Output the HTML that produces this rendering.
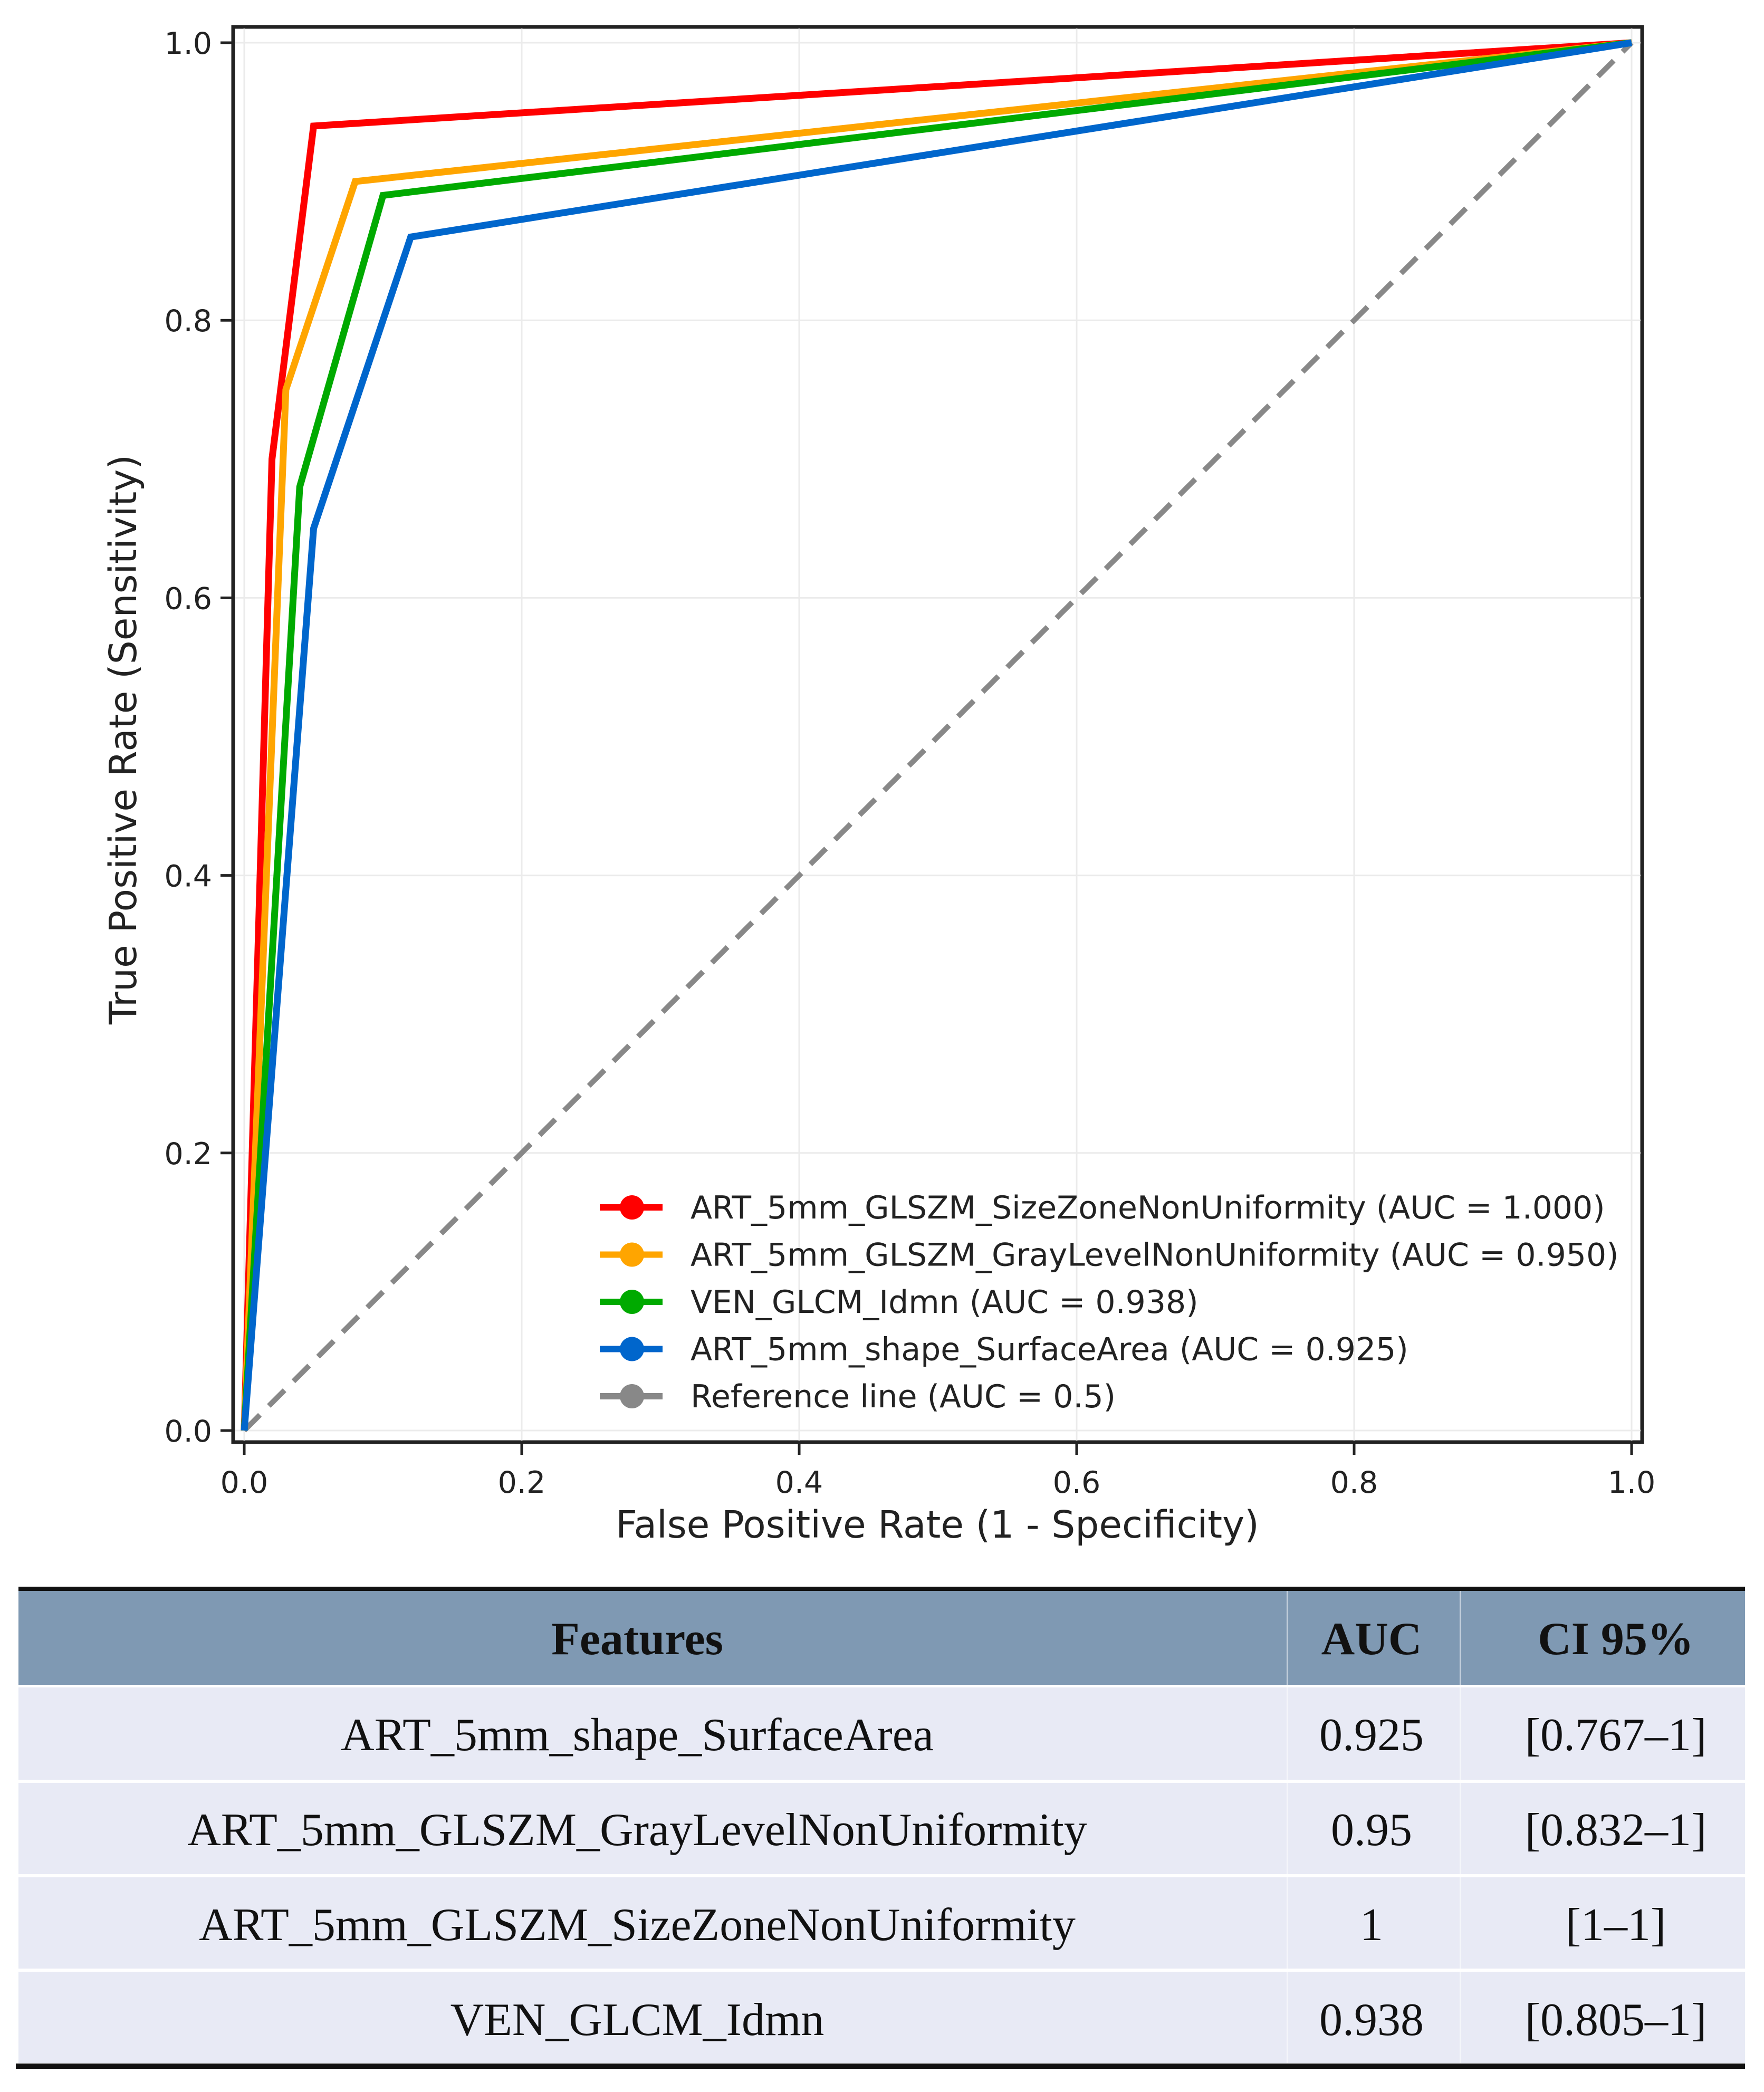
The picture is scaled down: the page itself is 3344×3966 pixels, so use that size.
<!DOCTYPE html>
<html><head><meta charset="utf-8"><style>
html,body{margin:0;padding:0;background:#fff;width:3344px;height:3966px;overflow:hidden}
svg{display:block}
</style></head><body>
<svg id="c" width="3344" height="3966" xmlns="http://www.w3.org/2000/svg">
<rect x="442" y="51" width="2671" height="2683" fill="#fff" stroke="#222" stroke-width="7"/>
<g id="grid"></g><g id="ticks"></g><g id="series"></g><g id="legend"></g>
<text x="1777" y="2915" font-family="DejaVu Sans, sans-serif" font-size="71" text-anchor="middle" fill="#222">False Positive Rate (1 - Specificity)</text>
<text transform="translate(258,1402) rotate(-90)" font-family="DejaVu Sans, sans-serif" font-size="71" text-anchor="middle" fill="#222">True Positive Rate (Sensitivity)</text>
<g font-family="Liberation Serif, serif" font-size="88" fill="#111">
<rect x="35" y="3016" width="3273" height="178" fill="#7f99b3"/>
<rect x="35" y="3008" width="3273" height="8" fill="#111"/>
<rect x="35" y="3199" width="3273" height="175" fill="#e8eaf5"/>
<rect x="35" y="3380" width="3273" height="173" fill="#e8eaf5"/>
<rect x="35" y="3559" width="3273" height="173" fill="#e8eaf5"/>
<rect x="35" y="3738" width="3273" height="173" fill="#e8eaf5"/>
<rect x="30" y="3912" width="3278" height="10" fill="#111"/>
<rect x="2439" y="3016" width="2" height="895" fill="#fff" opacity="0.6"/>
<rect x="2767" y="3016" width="2" height="895" fill="#fff" opacity="0.6"/>
<g font-weight="bold" text-anchor="middle">
<text x="1208" y="3136">Features</text>
<text x="2600" y="3136">AUC</text>
<text x="3063" y="3136">CI 95%</text>
</g>
<g text-anchor="middle">
<text x="1208" y="3318">ART_5mm_shape_SurfaceArea</text>
<text x="2600" y="3318">0.925</text>
<text x="3063" y="3318">[0.767–1]</text>
<text x="1208" y="3498">ART_5mm_GLSZM_GrayLevelNonUniformity</text>
<text x="2600" y="3498">0.95</text>
<text x="3063" y="3498">[0.832–1]</text>
<text x="1208" y="3678">ART_5mm_GLSZM_SizeZoneNonUniformity</text>
<text x="2600" y="3678">1</text>
<text x="3063" y="3678">[1–1]</text>
<text x="1208" y="3858">VEN_GLCM_Idmn</text>
<text x="2600" y="3858">0.938</text>
<text x="3063" y="3858">[0.805–1]</text>
</g></g>
</svg>
<script>
const tickValues=[0,0.2,0.4,0.6,0.8,1.0];
const tickLabels=["0.0","0.2","0.4","0.6","0.8","1.0"];
const seriesNames=["ART_5mm_GLSZM_SizeZoneNonUniformity (AUC = 1.000)","ART_5mm_GLSZM_GrayLevelNonUniformity (AUC = 0.950)","VEN_GLCM_Idmn (AUC = 0.938)","ART_5mm_shape_SurfaceArea (AUC = 0.925)","Reference line (AUC = 0.5)"];
const seriesColors=["#ff0000","#ffa500","#00aa00","#0066cc","#888888"];
const redFpr=[0,0.02,0.05,1];const redTpr=[0,0.70,0.94,1];
const orangeFpr=[0,0.03,0.08,1];const orangeTpr=[0,0.75,0.90,1];
const greenFpr=[0,0.04,0.10,1];const greenTpr=[0,0.68,0.89,1];
const blueFpr=[0,0.05,0.12,1];const blueTpr=[0,0.65,0.86,1];
const refFpr=[0,1];const refTpr=[0,1];
const NS="http://www.w3.org/2000/svg";
const X=v=>463+v*2630, Y=v=>2712-v*2631;
function mk(t,a,p){const e=document.createElementNS(NS,t);for(const k in a)e.setAttribute(k,a[k]);p.appendChild(e);return e;}
const grid=document.getElementById('grid'),ticks=document.getElementById('ticks');
tickValues.forEach((v,i)=>{
 let g1=mk('line',{x1:X(v),x2:X(v),y1:54,y2:2731,stroke:'#ebebeb','stroke-width':3},grid);
 
 
 let g2=mk('line',{x1:445,x2:3110,y1:Y(v),y2:Y(v),stroke:'#ebebeb','stroke-width':3},grid);
 
 
 mk('line',{x1:X(v),x2:X(v),y1:2734,y2:2758,stroke:'#222','stroke-width':5},ticks);
 mk('line',{x1:418,x2:442,y1:Y(v),y2:Y(v),stroke:'#222','stroke-width':5},ticks);
 let tx=mk('text',{x:X(v),y:2830,'font-family':'DejaVu Sans, sans-serif','font-size':57,'text-anchor':'middle',fill:'#222'},ticks);
 tx.textContent=tickLabels[i];
 
 
 let ty=mk('text',{x:402,y:Y(v)+21,'font-family':'DejaVu Sans, sans-serif','font-size':57,'text-anchor':'end',fill:'#222'},ticks);
 ty.textContent=tickLabels[i];
 
 
});
const ser=document.getElementById('series');
const all=[[redFpr,redTpr],[orangeFpr,orangeTpr],[greenFpr,greenTpr],[blueFpr,blueTpr],[refFpr,refTpr]];
const order=[4,0,1,2,3];
order.forEach(i=>{
 const [fx,ty]=all[i];
 const pts=fx.map((f,j)=>X(f)+','+Y(ty[j])).join(' ');
 const a={points:pts,fill:'none',stroke:seriesColors[i],'stroke-width':13,'stroke-linejoin':'miter'};
 if(i===4){a['stroke-dasharray']='42,24';a['stroke-width']=10;}
 const p=mk('polyline',a,ser);
 
 
});
const leg=document.getElementById('legend');
seriesNames.forEach((n,i)=>{
 const y=2289+i*89.5;
 const g=mk('g',{},leg);
 
 
 mk('line',{x1:1137,x2:1256,y1:y,y2:y,stroke:seriesColors[i],'stroke-width':12},g);
 mk('circle',{cx:1198,cy:y,r:23,fill:seriesColors[i]},g);
 const t=mk('text',{x:1309,y:y+21,'font-family':'DejaVu Sans, sans-serif','font-size':60,fill:'#222'},g);
 t.textContent=n;
});
</script>
</body></html>
